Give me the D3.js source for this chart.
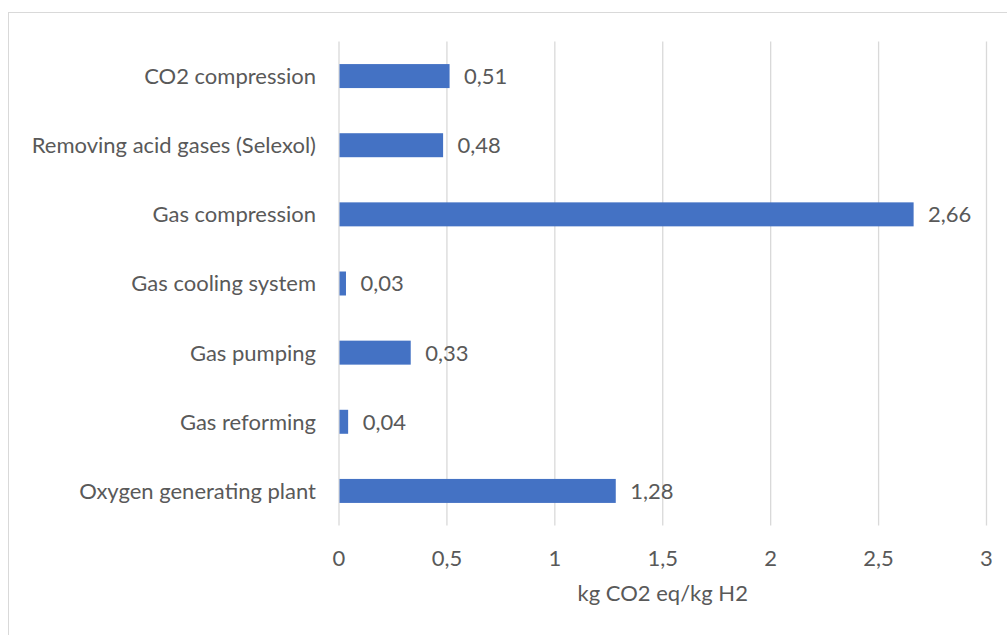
<!DOCTYPE html>
<html>
<head>
<meta charset="utf-8">
<script src="https://cdn.jsdelivr.net/npm/d3@7/dist/d3.min.js"></script>
<style>
  html, body { margin: 0; padding: 0; background: #fff; }
  svg { display: block; }
  text { font-family: Lato, "Open Sans", sans-serif; fill: #595959; }
</style>
</head>
<body>
<svg id="chart" width="1007" height="635"></svg>
<script>
// Emission contributions per process step (kg CO2 eq / kg H2)
const categories = [
  "CO2 compression",
  "Removing acid gases (Selexol)",
  "Gas compression",
  "Gas cooling system",
  "Gas pumping",
  "Gas reforming",
  "Oxygen generating plant"
];
const values = [0.51, 0.48, 2.66, 0.03, 0.33, 0.04, 1.28];
const xTicks = [0, 0.5, 1, 1.5, 2, 2.5, 3];
const xTitle = "kg CO2 eq/kg H2";

const W = 1007, H = 635;
const plot = { left: 339, right: 986.5, top: 41.5, bottom: 525.5 };
const fs = 22;
const fmt = v => String(v).replace(".", ",");

const svg = d3.select("#chart");

// chart frame
svg.append("rect")
  .attr("x", 8.5).attr("y", 12.5)
  .attr("width", W + 10).attr("height", H + 10)
  .attr("fill", "#fff").attr("stroke", "#d9d9d9").attr("stroke-width", 1);

const x = d3.scaleLinear().domain([0, 3]).range([plot.left, plot.right]);
const y = d3.scaleBand().domain(categories).range([plot.top, plot.bottom]).paddingInner(0.653).paddingOuter(0.3265);

// vertical gridlines
svg.append("g").selectAll("line").data(xTicks).join("line")
  .attr("x1", d => x(d)).attr("x2", d => x(d))
  .attr("y1", plot.top).attr("y2", plot.bottom)
  .attr("stroke", "#d9d9d9").attr("stroke-width", 1.3);

// bars
svg.append("g").selectAll("rect").data(values).join("rect")
  .attr("x", x(0) + 0.5)
  .attr("y", (d, i) => y(categories[i]))
  .attr("width", d => x(d) - x(0))
  .attr("height", y.bandwidth())
  .attr("fill", "#4472c4");

// value labels
svg.append("g").selectAll("text").data(values).join("text")
  .attr("x", d => x(d) + 15)
  .attr("y", (d, i) => y(categories[i]) + y.bandwidth() / 2)
  .attr("dy", "0.36em")
  .attr("font-size", fs)
  .text(d => fmt(d));

// category labels
svg.append("g").selectAll("text").data(categories).join("text")
  .attr("x", 316)
  .attr("y", d => y(d) + y.bandwidth() / 2)
  .attr("dy", "0.36em")
  .attr("text-anchor", "end")
  .attr("font-size", fs)
  .text(d => d);

// x tick labels
svg.append("g").selectAll("text").data(xTicks).join("text")
  .attr("x", d => x(d))
  .attr("y", 558)
  .attr("dy", "0.36em")
  .attr("text-anchor", "middle")
  .attr("font-size", fs)
  .text(d => fmt(d));

// axis title
svg.append("text")
  .attr("x", (plot.left + plot.right) / 2)
  .attr("y", 593)
  .attr("dy", "0.36em")
  .attr("text-anchor", "middle")
  .attr("font-size", fs)
  .text(xTitle);
</script>
</body>
</html>
